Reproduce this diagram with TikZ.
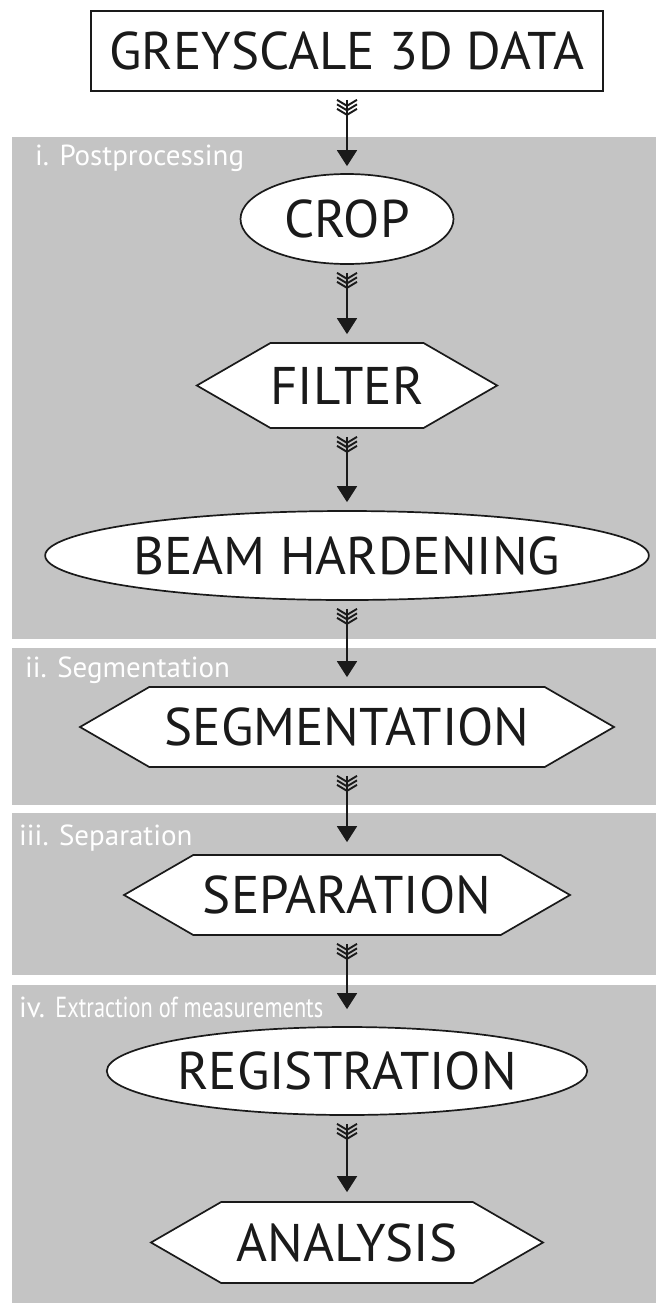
\documentclass[tikz,border=0pt]{standalone}
\usepackage{fontspec}
\setmainfont{PT Sans}
\usetikzlibrary{arrows.meta,shapes.geometric,shapes.symbols}
\definecolor{panelgray}{RGB}{196,196,196}
\definecolor{ink}{RGB}{26,26,26}
\tikzset{
  panel/.style={fill=panelgray, draw=none},
  steplabel/.style={text=white, anchor=base west, inner sep=0pt, font=\fontsize{29}{29}\selectfont},
  stage/.style={draw=ink, text=ink, line width=1.7pt, fill=white, inner sep=0pt, font=\fontsize{53}{53}\selectfont},
  oval/.style={stage, ellipse},
  hexa/.style={stage, signal, signal to=west and east, signal pointer angle=60},
  flow/.style={draw=ink, line width=1.7pt, -{Triangle[length=16pt,width=20pt]}},
  fletch/.style={draw=ink, line width=1.9pt},
}

\begin{document}
\begin{tikzpicture}[x=1pt,y=-1pt]
  \useasboundingbox (0,0) rectangle (656,1307);

  %shaded stages
  \fill[panel] (12,137) rectangle (656,639);
  \fill[panel] (12,648) rectangle (656,805);
  \fill[panel] (12,813) rectangle (656,975);
  \fill[panel] (12,985) rectangle (656,1303);

  %stage labels
  \node[steplabel] (lab1) at (35,165) {i. Postprocessing};
  \node[steplabel] (lab2) at (25,677) {ii. Segmentation};
  \node[steplabel] (lab3) at (19,845) {iii. Separation};
  \node[steplabel] (lab4) at (19,1017) {iv. \scalebox{0.77}[1]{Extraction of measurements}};

  %steps
  \node[stage, minimum width=512pt, minimum height=80pt] (data) at (347,51) {GREYSCALE 3D DATA};
  \node[oval, minimum width=213pt, minimum height=90pt] (crop) at (347,219) {CROP};
  \node[hexa, minimum width=289pt, minimum height=85pt] (filter) at (347,385.5) {FILTER};
  \node[oval, minimum width=554pt, minimum height=89pt] (beam) at (347,555.5) {BEAM HARDENING};
  \node[hexa, minimum width=534pt, minimum height=80pt] (seg) at (347,727) {SEGMENTATION};
  \node[hexa, minimum width=446pt, minimum height=80pt] (sep) at (347,895) {SEPARATION};
  \node[oval, minimum width=442pt, minimum height=88pt] (reg) at (347,1071) {REGISTRATION};
  \node[hexa, minimum width=392pt, minimum height=81pt] (ana) at (347,1242.5) {ANALYSIS};

  %arrows with feathers
  \foreach \a/\b/\g in {data/crop/7, crop/filter/8, filter/beam/8, beam/seg/9,
                        seg/sep/12, sep/reg/17, reg/ana/9} {
    \draw[flow] ([yshift=-8pt]\a.south) -- ([yshift=\g pt]\b.north);
    \foreach \k in {0pt,4.5pt,9pt}
      \draw[fletch] ([xshift=-10pt,yshift=-8pt-\k]\a.south) -- ++(10pt,-6pt) -- ++(10pt,6pt);
  }
\end{tikzpicture}
\end{document}
